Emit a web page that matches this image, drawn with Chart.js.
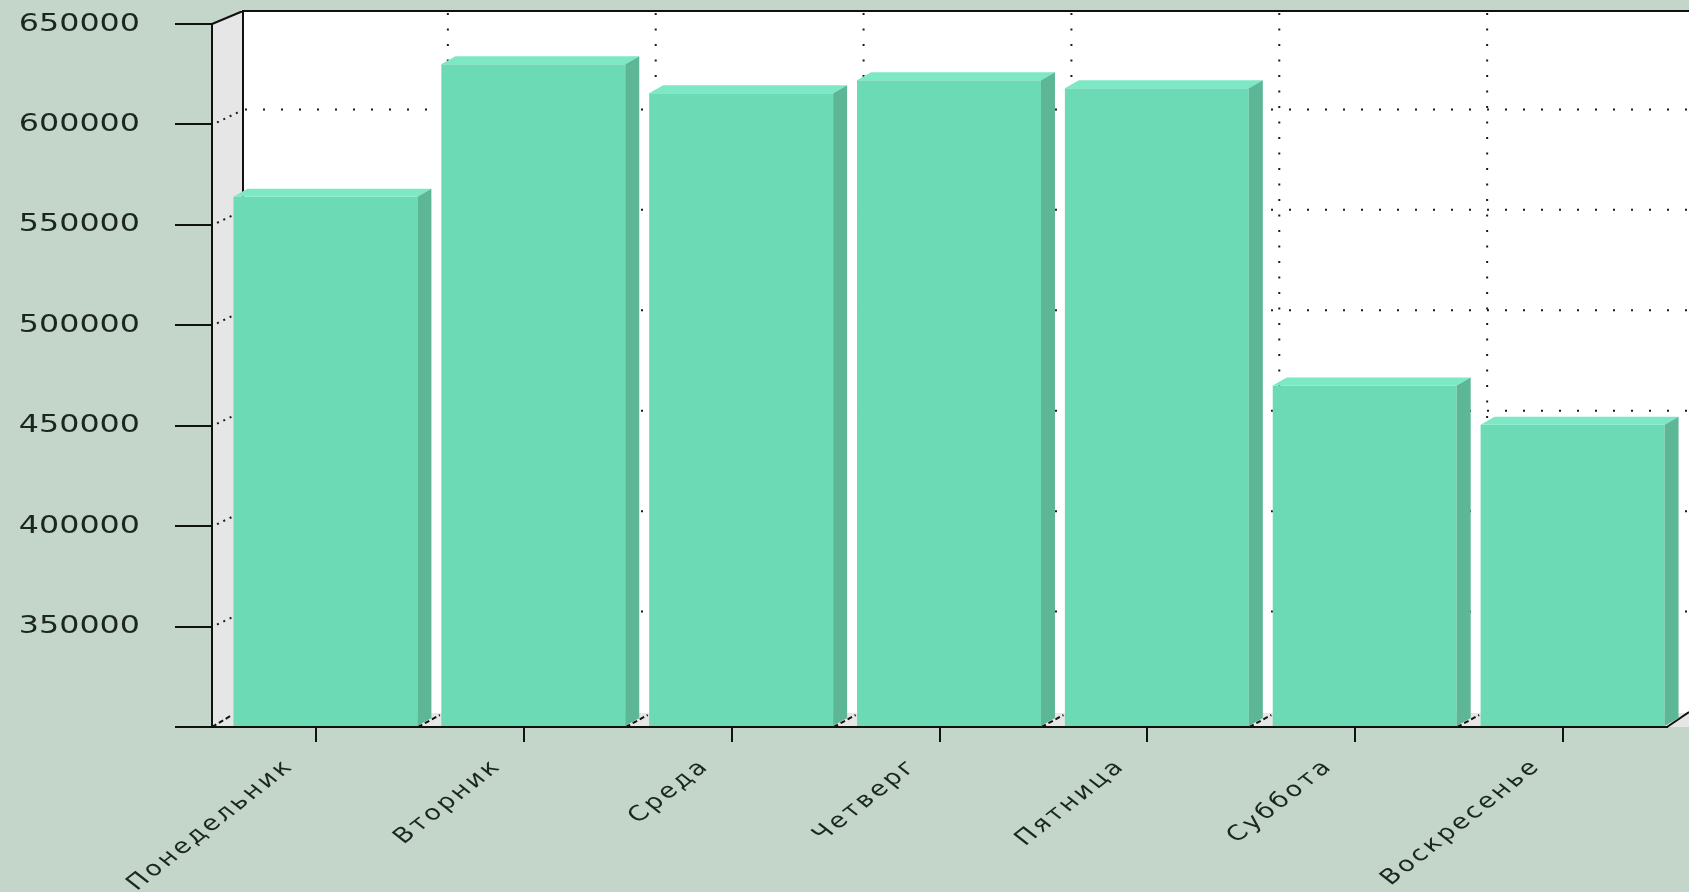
<!DOCTYPE html>
<html><head><meta charset="utf-8">
<script src="https://cdn.jsdelivr.net/npm/chart.js@4.4.1/dist/chart.umd.min.js"></script>
<style>html,body{margin:0;padding:0;background:#c4d6c9;overflow:hidden}#wrap{width:1689px;height:892px;position:relative}</style>
</head><body><div id="wrap"><canvas id="c"></canvas></div>
<script>
const categories = ['Понедельник', 'Вторник', 'Среда', 'Четверг', 'Пятница', 'Суббота', 'Воскресенье'];
const values = [564000, 630000, 615500, 622000, 618000, 470000, 450500];
const yTickValues = [300000, 350000, 400000, 450000, 500000, 550000, 600000, 650000];
const yTickLabels = ['', '350000', '400000', '450000', '500000', '550000', '600000', '650000'];

const D = {wx: 31, wy: 13, gx: 28, gy: 15, bx: 14, by: 8, shift: 9.5, stretch: 1.27};

function dotted(ctx, x1, y1, x2, y2, gap) {
  ctx.save();
  ctx.strokeStyle = '#1a1a1a';
  ctx.lineWidth = 2;
  ctx.setLineDash([2, gap]);
  ctx.beginPath(); ctx.moveTo(x1, y1); ctx.lineTo(x2, y2); ctx.stroke();
  ctx.restore();
}

// draw text stretched horizontally (in page space) around its anchor point
let origFillText = null;
function wrapText(ctx, spacing) {
  if (!origFillText) origFillText = ctx.fillText;
  const orig = origFillText;
  ctx.fillText = function (text, x, y, maxW) {
    const m = this.getTransform();
    const p = m.transformPoint(new DOMPoint(x, y));
    this.save();
    this.setTransform(new DOMMatrix().translate(p.x, p.y).scale(D.stretch, 1).translate(-p.x, -p.y).multiply(m));
    this.letterSpacing = spacing;
    orig.call(this, text, x, y);
    this.restore();
  };
}
function unwrapText(ctx) {
  if (origFillText) ctx.fillText = origFillText;
}

const threeD = {
  id: 'threeD',
  beforeDraw(chart) {
    const {ctx, chartArea: a, scales: {x, y}, width: W} = chart;
    ctx.save();
    const bl = a.left + D.wx, bt = a.top - D.wy, bb = a.bottom - D.wy - 1;
    ctx.fillStyle = '#e6e6e6';
    ctx.beginPath();
    ctx.moveTo(a.left, a.bottom); ctx.lineTo(a.left, a.top); ctx.lineTo(bl, bt); ctx.lineTo(bl, bb); ctx.closePath(); ctx.fill();
    ctx.beginPath();
    ctx.moveTo(a.left, a.bottom); ctx.lineTo(bl, bb); ctx.lineTo(W, bb); ctx.lineTo(W, a.bottom); ctx.closePath(); ctx.fill();
    ctx.fillStyle = '#ffffff';
    ctx.fillRect(bl, bt, W - bl, bb - bt);
    yTickValues.forEach(v => {
      if (v === yTickValues[0] || v === yTickValues[yTickValues.length - 1]) return;
      const py = y.getPixelForValue(v);
      dotted(ctx, bl + 2, py - D.gy, W, py - D.gy, 16);
      dotted(ctx, a.left + 5, py - 2, bl - 3, py - D.gy + 2, 5);
    });
    const cw = (a.right - a.left) / categories.length;
    for (let k = 1; k < categories.length; k++) {
      const bx = a.left + k * cw;
      dotted(ctx, bx + D.gx, bt + 2, bx + D.gx, bb, 13.5);
      ctx.strokeStyle = '#111'; ctx.lineWidth = 2; ctx.setLineDash([5, 3]);
      ctx.beginPath(); ctx.moveTo(bx - 2, a.bottom); ctx.lineTo(bx + 20, a.bottom - 12); ctx.stroke();
    }
    ctx.strokeStyle = '#111'; ctx.lineWidth = 2; ctx.setLineDash([5, 3]);
    ctx.beginPath(); ctx.moveTo(a.left, a.bottom); ctx.lineTo(a.left + 20, a.bottom - 12); ctx.stroke();
    ctx.setLineDash([]);
    ctx.beginPath();
    ctx.moveTo(W, bt); ctx.lineTo(bl, bt); ctx.lineTo(bl, bb);
    ctx.moveTo(a.left, a.top); ctx.lineTo(bl, bt);
    ctx.moveTo(a.right, a.bottom); ctx.lineTo(W, bb - 1);
    ctx.stroke();
    ctx.restore();
    wrapText(ctx, '2.5px');
  },
  beforeDatasetsDraw(chart) {
    unwrapText(chart.ctx);
    chart.ctx.save();
    chart.ctx.translate(D.shift, 0);
  },
  afterDatasetsDraw(chart) {
    const ctx = chart.ctx;
    ctx.restore();
    const meta = chart.getDatasetMeta(0);
    ctx.save();
    meta.data.forEach(el => {
      const {x, y, base, width} = el.getProps(['x', 'y', 'base', 'width'], true);
      const xl = x - width / 2 + D.shift, xr = x + width / 2 + D.shift;
      ctx.fillStyle = '#7de8c5';
      ctx.beginPath();
      ctx.moveTo(xl, y); ctx.lineTo(xl + D.bx, y - D.by); ctx.lineTo(xr + D.bx, y - D.by); ctx.lineTo(xr, y); ctx.closePath(); ctx.fill();
      ctx.fillStyle = '#5db797';
      ctx.beginPath();
      ctx.moveTo(xr, y); ctx.lineTo(xr + D.bx, y - D.by); ctx.lineTo(xr + D.bx, base - D.by); ctx.lineTo(xr, base); ctx.closePath(); ctx.fill();
    });
    ctx.restore();
    wrapText(ctx, '0px');
  },
  afterDraw(chart) {
    unwrapText(chart.ctx);
  }
};

new Chart(document.getElementById('c'), {
  type: 'bar',
  data: {
    labels: categories,
    datasets: [{
      data: values,
      base: yTickValues[0],
      backgroundColor: '#6cdab5',
      borderWidth: 0,
      barPercentage: 0.885,
      categoryPercentage: 1.0
    }]
  },
  options: {
    responsive: true,
    maintainAspectRatio: false,
    animation: false,
    events: [],
    layout: {padding: {top: 24, right: 22, left: 0, bottom: 0}},
    plugins: {legend: {display: false}, tooltip: {enabled: false}},
    scales: {
      x: {
        type: 'category',
        offset: true,
        grid: {display: true, drawOnChartArea: false, drawTicks: true, tickLength: 15, offset: false, color: '#111', lineWidth: 2},
        border: {display: true, color: '#111', width: 2},
        ticks: {autoSkip: false, maxRotation: 45, minRotation: 45, labelOffset: -26, padding: 12,
          color: '#1c2620', font: {family: 'DejaVu Sans', size: 21}},
        afterFit(s) { s.height = 165; s.paddingLeft = 0; s.paddingRight = 0; }
      },
      y: {
        type: 'linear',
        min: yTickValues[0],
        max: yTickValues[yTickValues.length - 1],
        grid: {display: true, drawOnChartArea: false, drawTicks: true, tickLength: 37, color: '#111', lineWidth: 2},
        border: {display: true, color: '#111', width: 2},
        ticks: {stepSize: 50000, padding: 35, z: 1, color: '#1c2620', font: {family: 'DejaVu Sans', size: 25},
          callback: (v) => yTickLabels[yTickValues.indexOf(v)]},
        afterFit(s) { s.width = 212; s.paddingTop = 0; s.paddingBottom = 0; }
      }
    }
  },
  plugins: [threeD]
});
</script>
</body></html>
